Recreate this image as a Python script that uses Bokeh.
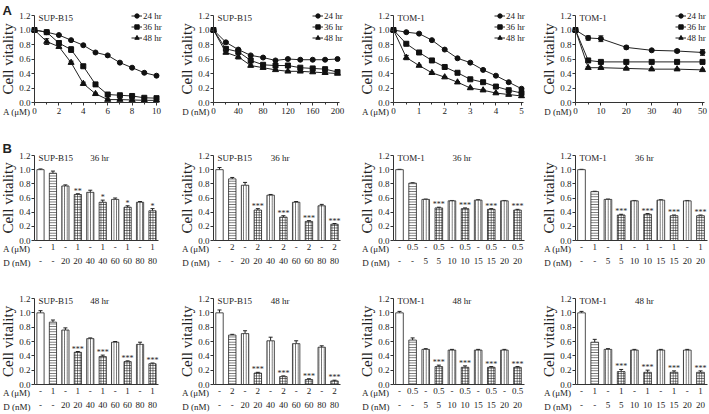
from bokeh.plotting import figure
from bokeh.models import (Range1d, FixedTicker, LinearAxis, Label, Legend, LegendItem,
                          Whisker, TeeHead, ColumnDataSource, NumeralTickFormatter)
from bokeh.layouts import row, column
from bokeh.embed import file_html
from bokeh.resources import INLINE
from bokeh.core.properties import value

SERIF = "Liberation Serif"
SANS = "Liberation Sans"

# ---------------- Panel A data ----------------
series_labels = ["24 hr", "36 hr", "48 hr"]

a1_x = [0, 1, 2, 3, 4, 5, 6, 7, 8, 9, 10]
a1_24 = [1.00, 0.97, 0.93, 0.86, 0.79, 0.69, 0.65, 0.55, 0.48, 0.41, 0.37]
a1_36 = [1.00, 0.97, 0.82, 0.73, 0.50, 0.25, 0.11, 0.10, 0.09, 0.065, 0.06]
a1_48 = [1.00, 0.84, 0.77, 0.55, 0.26, 0.12, 0.04, 0.04, 0.035, 0.03, 0.03]
a1_e24 = [0.01, 0.01, 0.01, 0.01, 0.01, 0.01, 0.01, 0.01, 0.01, 0.01, 0.01]
a1_e36 = [0.02, 0.02, 0.03, 0.04, 0.02, 0.02, 0.01, 0.01, 0.01, 0.01, 0.01]
a1_e48 = [0.02, 0.04, 0.02, 0.02, 0.02, 0.01, 0.01, 0.01, 0.01, 0.01, 0.01]

a2_x = [0, 20, 40, 60, 80, 100, 120, 140, 160, 180, 200]
a2_24 = [1.00, 0.83, 0.73, 0.65, 0.62, 0.58, 0.60, 0.59, 0.59, 0.59, 0.60]
a2_36 = [1.00, 0.74, 0.70, 0.58, 0.52, 0.51, 0.51, 0.48, 0.47, 0.46, 0.42]
a2_48 = [1.00, 0.69, 0.63, 0.51, 0.48, 0.45, 0.43, 0.43, 0.42, 0.41, 0.40]
a2_e24 = [0.01, 0.01, 0.01, 0.01, 0.01, 0.01, 0.01, 0.01, 0.01, 0.01, 0.01]
a2_e36 = [0.01, 0.02, 0.02, 0.02, 0.01, 0.01, 0.01, 0.01, 0.01, 0.01, 0.01]
a2_e48 = [0.01, 0.02, 0.03, 0.02, 0.01, 0.01, 0.01, 0.01, 0.01, 0.01, 0.01]

a3_x = [0, 0.5, 1, 1.5, 2, 2.5, 3, 3.5, 4, 4.5, 5]
a3_24 = [1.00, 0.97, 0.95, 0.86, 0.73, 0.61, 0.55, 0.45, 0.37, 0.28, 0.19]
a3_36 = [1.00, 0.81, 0.69, 0.58, 0.49, 0.41, 0.32, 0.28, 0.22, 0.17, 0.13]
a3_48 = [1.00, 0.62, 0.51, 0.41, 0.35, 0.28, 0.20, 0.17, 0.13, 0.11, 0.09]
a3_e24 = [0.01, 0.01, 0.01, 0.01, 0.01, 0.01, 0.01, 0.01, 0.01, 0.01, 0.01]
a3_e36 = [0.01, 0.01, 0.01, 0.01, 0.01, 0.01, 0.01, 0.01, 0.01, 0.01, 0.02]
a3_e48 = [0.01, 0.03, 0.01, 0.01, 0.01, 0.01, 0.01, 0.01, 0.01, 0.02, 0.02]

a4_x = [0, 5, 10, 20, 30, 40, 50]
a4_24 = [1.00, 0.89, 0.88, 0.76, 0.72, 0.71, 0.69]
a4_36 = [1.00, 0.58, 0.56, 0.56, 0.56, 0.56, 0.56]
a4_48 = [1.00, 0.48, 0.48, 0.47, 0.46, 0.46, 0.45]
a4_e24 = [0.02, 0.03, 0.04, 0.02, 0.01, 0.02, 0.04]
a4_e36 = [0.02, 0.02, 0.01, 0.01, 0.01, 0.01, 0.01]
a4_e48 = [0.02, 0.01, 0.01, 0.01, 0.01, 0.01, 0.01]

# ---------------- Panel B data ----------------
bar_pos = [1, 2, 3, 4, 5, 6, 7, 8, 9, 10]
d_sup = ["-", "-", "20", "20", "40", "40", "60", "60", "80", "80"]
d_tom = ["-", "-", "5", "5", "10", "10", "15", "15", "20", "20"]
a_1 = ["-", "1", "-", "1", "-", "1", "-", "1", "-", "1"]
a_2 = ["-", "2", "-", "2", "-", "2", "-", "2", "-", "2"]
a_05 = ["-", "0.5", "-", "0.5", "-", "0.5", "-", "0.5", "-", "0.5"]
stars_1 = ["", "", "", "**", "", "*", "", "*", "", "*"]
stars_3 = ["", "", "", "***", "", "***", "", "***", "", "***"]

b1_v = [1.00, 0.95, 0.77, 0.65, 0.68, 0.54, 0.58, 0.47, 0.54, 0.42]
b1_e = [0.01, 0.03, 0.015, 0.01, 0.03, 0.03, 0.02, 0.02, 0.01, 0.03]
b2_v = [1.00, 0.87, 0.78, 0.43, 0.64, 0.33, 0.54, 0.27, 0.49, 0.23]
b2_e = [0.03, 0.02, 0.04, 0.02, 0.01, 0.02, 0.01, 0.01, 0.02, 0.01]
b3_v = [1.00, 0.81, 0.58, 0.46, 0.56, 0.45, 0.57, 0.44, 0.56, 0.43]
b3_e = [0.005, 0.005, 0.005, 0.01, 0.005, 0.01, 0.005, 0.01, 0.005, 0.01]
b4_v = [1.00, 0.69, 0.58, 0.36, 0.56, 0.37, 0.57, 0.35, 0.56, 0.35]
b4_e = [0.005, 0.005, 0.005, 0.01, 0.005, 0.01, 0.005, 0.01, 0.005, 0.01]
b5_v = [1.00, 0.87, 0.76, 0.45, 0.64, 0.39, 0.59, 0.32, 0.56, 0.29]
b5_e = [0.03, 0.03, 0.03, 0.01, 0.01, 0.02, 0.01, 0.01, 0.03, 0.01]
b6_v = [1.00, 0.69, 0.71, 0.16, 0.61, 0.11, 0.57, 0.07, 0.52, 0.05]
b6_e = [0.04, 0.01, 0.04, 0.01, 0.05, 0.01, 0.04, 0.01, 0.02, 0.01]
b7_v = [1.00, 0.62, 0.49, 0.25, 0.48, 0.24, 0.48, 0.24, 0.48, 0.24]
b7_e = [0.02, 0.03, 0.01, 0.02, 0.01, 0.02, 0.01, 0.01, 0.01, 0.01]
b8_v = [1.00, 0.59, 0.49, 0.18, 0.48, 0.17, 0.48, 0.17, 0.48, 0.17]
b8_e = [0.02, 0.04, 0.01, 0.03, 0.01, 0.03, 0.01, 0.02, 0.01, 0.02]

hatches = ["blank", "horizontal_line", "vertical_line", "cross", "vertical_line",
           "cross", "vertical_line", "cross", "vertical_line", "cross"]

# ---------------- layout geometry (pixels inside each canvas) ----------------
COL_W = [179, 180, 182, 167]
AX = 34                              # y-axis position from canvas left
LINE_END = [156, 158, 162, 161]      # pixel of the last x tick (row A)
BAR_END = [152, 155, 158, 159]       # pixel of the centre of bar 10
LEG_X = [131, 133, 135, 134]
ROW_A = (140, 15, 102)               # height, px of 1.2, px of 0.0
ROW_B1 = (135, 15, 100)
ROW_B2 = (138, 23, 109)
INK = "#222222"
AXC = "#333333"
FS = "9px"


def xrange_for(d0, p0, d1, p1, W):
    s = (d1 - d0) / (p1 - p0)
    return d0 - p0 * s, d0 + (W - p0) * s, s


def yrange_for(H, p12, p0):
    s = 1.2 / (p0 - p12)
    return -(H - p0) * s, 1.2 + p12 * s


def make_fig(W, H, xr, yr):
    p = figure(width=W, height=H, x_range=Range1d(*xr), y_range=Range1d(*yr),
               output_backend="svg", toolbar_location=None,
               min_border_left=0, min_border_right=0, min_border_top=0, min_border_bottom=0)
    p.grid.visible = False
    p.outline_line_color = None
    p.background_fill_color = "white"
    p.border_fill_color = "white"
    return p


def style_y(p, xloc):
    ya = p.yaxis[0]
    ya.fixed_location = xloc
    ya.bounds = (0, 1.2)
    ya.ticker = FixedTicker(ticks=[0, 0.2, 0.4, 0.6, 0.8, 1.0, 1.2])
    ya.formatter = NumeralTickFormatter(format="0.0")
    ya.axis_label = "Cell vitality"
    ya.axis_label_text_font = SERIF
    ya.axis_label_text_font_size = "15px"
    ya.axis_label_text_font_style = "normal"
    ya.axis_label_text_color = INK
    ya.axis_label_standoff = 0
    ya.major_label_text_font = SERIF
    ya.major_label_text_font_size = FS
    ya.major_label_text_color = INK
    ya.major_label_standoff = 1
    ya.major_tick_out = 3
    ya.major_tick_in = 0
    ya.minor_tick_out = 0
    ya.minor_tick_in = 0
    ya.axis_line_color = AXC
    ya.major_tick_line_color = AXC


def add_text(p, text, x, y, xu="screen", yu="screen", align="left", base="middle",
             size=FS, font=SERIF, style="normal"):
    p.add_layout(Label(x=x, y=y, x_units=xu, y_units=yu, text=text, text_align=align,
                       text_baseline=base, text_font=font, text_font_size=size,
                       text_font_style=style, text_color=INK))


def line_panel(col, x, ys, es, xmax, major, minor, xname, cell, letter=None):
    W = COL_W[col]
    H, p12, p0 = ROW_A
    x0, x1, sx = xrange_for(0, AX, xmax, LINE_END[col], W)
    p = make_fig(W, H, (x0, x1), yrange_for(H, p12, p0))
    style_y(p, 0)
    xa = p.xaxis[0]
    xa.fixed_location = 0
    xa.bounds = (0, xmax + 2 * sx)
    xa.ticker = FixedTicker(ticks=major, minor_ticks=minor)
    xa.major_label_text_font = SERIF
    xa.major_label_text_font_size = FS
    xa.major_label_text_color = INK
    xa.major_label_standoff = 2
    xa.major_tick_out = 3
    xa.major_tick_in = 0
    xa.minor_tick_out = 2
    xa.minor_tick_in = 0
    xa.axis_line_color = AXC
    xa.major_tick_line_color = AXC
    xa.minor_tick_line_color = AXC

    markers = ["circle", "square", "triangle"]
    sizes = [5, 5, 6]
    items = []
    for y, e, m, s, lab in zip(ys, es, markers, sizes, series_labels):
        src = ColumnDataSource(dict(x=x, y=y, lo=[a - b for a, b in zip(y, e)],
                                    hi=[a + b for a, b in zip(y, e)]))
        p.add_layout(Whisker(source=src, base="x", upper="hi", lower="lo",
                             line_color=INK, line_width=1,
                             upper_head=TeeHead(size=5, line_color=INK, line_width=1),
                             lower_head=TeeHead(size=5, line_color=INK, line_width=1)))
        l = p.line("x", "y", source=src, line_color=INK, line_width=1)
        sc = p.scatter("x", "y", source=src, marker=m, size=s,
                       fill_color="#111111", line_color="#111111")
        items.append(LegendItem(label=lab, renderers=[l, sc]))
    leg = Legend(items=items, location=(LEG_X[col], H - 10 - 33), border_line_color=None,
                 background_fill_alpha=0, label_text_font=SERIF,
                 label_text_font_size=FS, label_text_color=INK,
                 glyph_width=11, glyph_height=11, label_height=11, label_standoff=1,
                 spacing=0, padding=0, margin=0)
    p.add_layout(leg)
    add_text(p, cell, AX + 4, H - (p12 + 2))
    add_text(p, xname, AX - 4, H - (p0 + 9), align="right")
    if letter:
        add_text(p, letter, 2, H - 2, base="top", size="13px", font=SANS, style="bold")
    return p


def bar_panel(col, geom, vals, errs, alab, dlab, stars, cell, hr, letter=None):
    W = COL_W[col]
    H, p12, p0 = geom
    x0, x1, sx = xrange_for(1, AX + 6, 10, BAR_END[col], W)
    p = make_fig(W, H, (x0, x1), yrange_for(H, p12, p0))
    xloc = 1 - 6 * sx
    style_y(p, xloc)
    src = ColumnDataSource(dict(x=bar_pos, v=vals, hi=[a + b for a, b in zip(vals, errs)],
                                hatch=hatches, st=stars,
                                sy=[a + b + 0.035 for a, b in zip(vals, errs)]))
    p.vbar(x="x", top="v", width=0.58, source=src, fill_color="white",
           line_color=INK, line_width=0.8, hatch_pattern="hatch",
           hatch_color=INK, hatch_scale=2.6, hatch_weight=0.7)
    p.add_layout(Whisker(source=src, base="x", upper="hi", lower="v",
                         line_color=INK, line_width=1,
                         upper_head=TeeHead(size=4, line_color=INK, line_width=1),
                         lower_head=None))
    p.text(x="x", y="sy", text="st", source=src, text_align="center",
           text_baseline="middle", text_font=value(SERIF), text_font_size="8px",
           text_color=INK)

    xa = p.xaxis[0]
    xa.fixed_location = 0
    xa.bounds = (xloc, 10.5)
    xa.ticker = FixedTicker(ticks=bar_pos)
    xa.major_label_overrides = {i: t for i, t in zip(bar_pos, alab)}
    xa.major_label_text_font = SERIF
    xa.major_label_text_font_size = FS
    xa.major_label_text_color = INK
    xa.major_label_standoff = 3
    xa.major_tick_out = 0
    xa.major_tick_in = 0
    xa.minor_tick_out = 0
    xa.minor_tick_in = 0
    xa.major_tick_line_color = None
    xa.minor_tick_line_color = None
    xa.axis_line_color = AXC

    xb = LinearAxis(ticker=FixedTicker(ticks=bar_pos), fixed_location=0,
                    major_label_overrides={i: t for i, t in zip(bar_pos, dlab)},
                    major_label_text_font=SERIF, major_label_text_font_size=FS,
                    major_label_text_color=INK, major_label_standoff=17,
                    major_tick_out=0, major_tick_in=0, minor_tick_out=0, minor_tick_in=0,
                    major_tick_line_color=None, minor_tick_line_color=None,
                    axis_line_color=None)
    p.add_layout(xb, "below")

    add_text(p, cell, AX + 4, H - (p12 + 2))
    add_text(p, hr, 5.75, H - (p12 + 2), xu="data", align="center")
    add_text(p, "A (\u03bcM)", AX - 4, H - (p0 + 8), align="right")
    add_text(p, "D (nM)", AX - 4, H - (p0 + 22), align="right")
    if letter:
        add_text(p, letter, 2, H, base="top", size="13px", font=SANS, style="bold")
    return p


pa1 = line_panel(0, a1_x, [a1_24, a1_36, a1_48], [a1_e24, a1_e36, a1_e48], 10,
                 [0, 2, 4, 6, 8, 10], [1, 3, 5, 7, 9], "A (\u03bcM)", "SUP-B15", letter="A")
pa2 = line_panel(1, a2_x, [a2_24, a2_36, a2_48], [a2_e24, a2_e36, a2_e48], 200,
                 [0, 40, 80, 120, 160, 200], [20, 60, 100, 140, 180], "D (nM)", "SUP-B15")
pa3 = line_panel(2, a3_x, [a3_24, a3_36, a3_48], [a3_e24, a3_e36, a3_e48], 5,
                 [0, 1, 2, 3, 4, 5], [0.5, 1.5, 2.5, 3.5, 4.5], "A (\u03bcM)", "TOM-1")
pa4 = line_panel(3, a4_x, [a4_24, a4_36, a4_48], [a4_e24, a4_e36, a4_e48], 50,
                 [0, 10, 20, 30, 40, 50], [5], "D (nM)", "TOM-1")

pb1 = bar_panel(0, ROW_B1, b1_v, b1_e, a_1, d_sup, stars_1, "SUP-B15", "36 hr", letter="B")
pb2 = bar_panel(1, ROW_B1, b2_v, b2_e, a_2, d_sup, stars_3, "SUP-B15", "36 hr")
pb3 = bar_panel(2, ROW_B1, b3_v, b3_e, a_05, d_tom, stars_3, "TOM-1", "36 hr")
pb4 = bar_panel(3, ROW_B1, b4_v, b4_e, a_1, d_tom, stars_3, "TOM-1", "36 hr")
pb5 = bar_panel(0, ROW_B2, b5_v, b5_e, a_1, d_sup, stars_3, "SUP-B15", "48 hr")
pb6 = bar_panel(1, ROW_B2, b6_v, b6_e, a_2, d_sup, stars_3, "SUP-B15", "48 hr")
pb7 = bar_panel(2, ROW_B2, b7_v, b7_e, a_05, d_tom, stars_3, "TOM-1", "48 hr")
pb8 = bar_panel(3, ROW_B2, b8_v, b8_e, a_1, d_tom, stars_3, "TOM-1", "48 hr")

layout = column(row(pa1, pa2, pa3, pa4), row(pb1, pb2, pb3, pb4), row(pb5, pb6, pb7, pb8))
open("out.html", "w").write(file_html(layout, INLINE))
